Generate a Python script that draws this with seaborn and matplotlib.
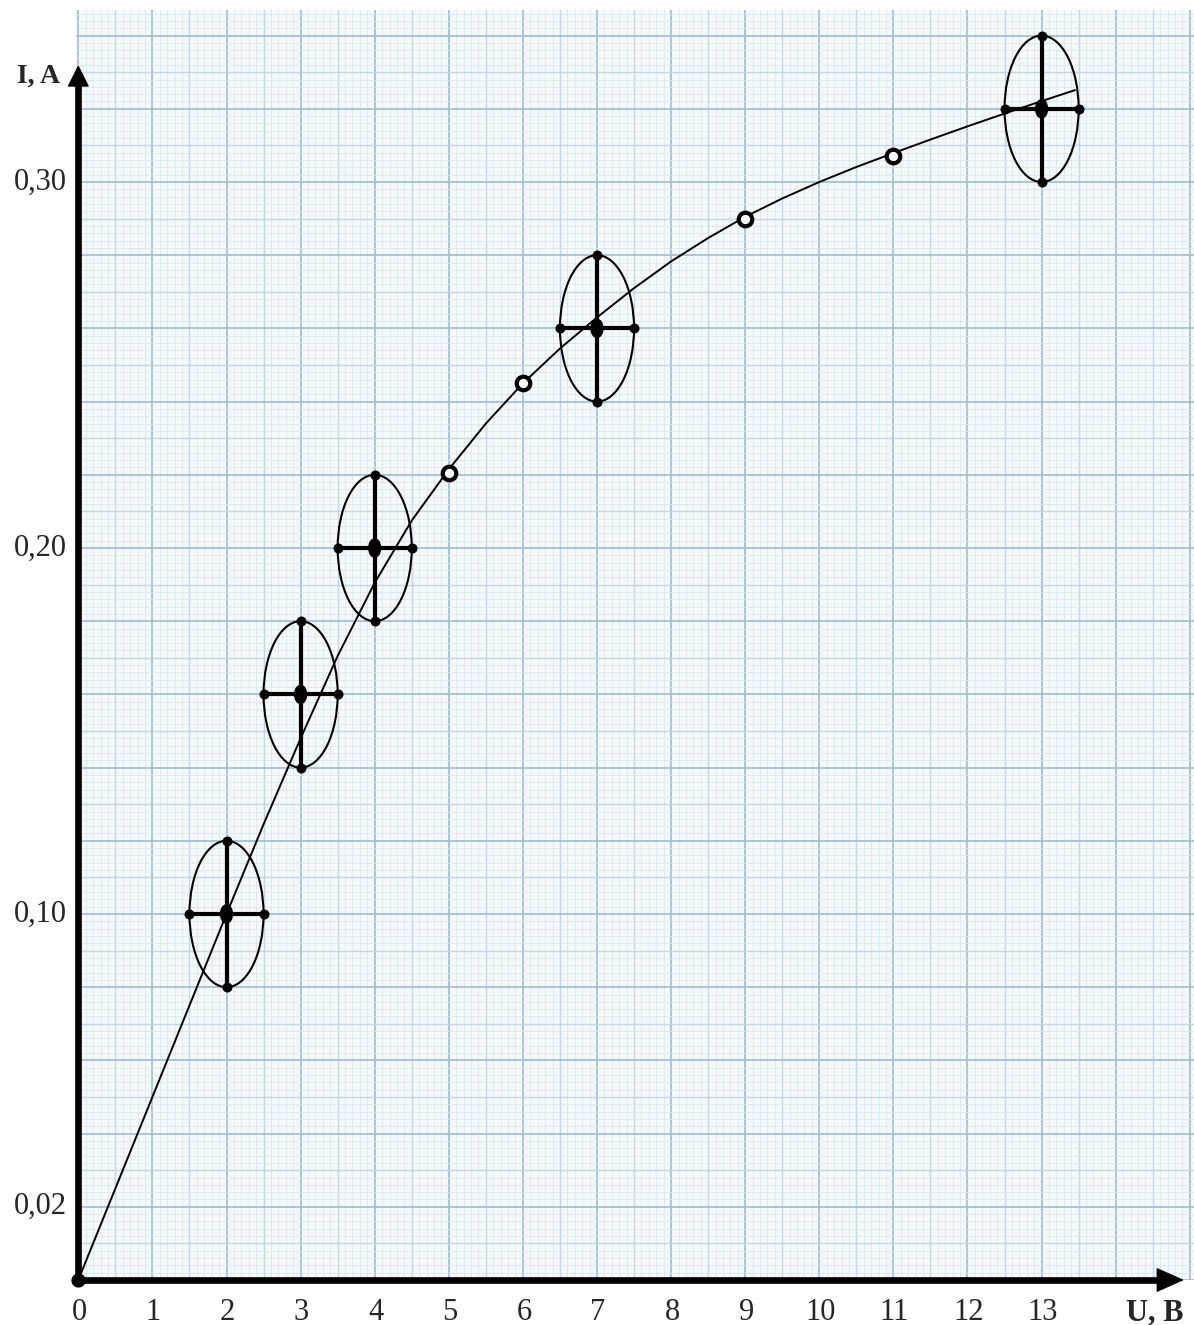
import numpy as np
import pandas as pd
import seaborn as sns
import matplotlib.pyplot as plt
from matplotlib.patches import Ellipse

# measured points (with error bars and ellipses)
u_meas = [2, 3, 4, 7, 13]
i_meas = [0.10, 0.16, 0.20, 0.26, 0.32]
du = 0.5
di = 0.02

# points taken from the curve (open circles)
u_open = [5, 6, 9, 11]
i_open = [0.2205, 0.245, 0.29, 0.307]

# the drawn curve
u_curve = [0, 1, 2, 2.5, 3, 3.5, 4, 4.5, 5, 5.5, 6, 6.5, 7, 7.5, 8, 8.5, 9,
           9.5, 10, 10.5, 11, 11.5, 12, 12.5, 13, 13.45]
i_curve = [0, 0.050, 0.100, 0.1245, 0.148, 0.1705, 0.1905, 0.2075, 0.2215, 0.234,
           0.245, 0.2545, 0.263, 0.271, 0.2783, 0.2847, 0.2905, 0.2955, 0.300,
           0.3041, 0.3079, 0.3116, 0.3152, 0.3187, 0.3221, 0.3251]

x_ticks = list(range(14))
x_tick_labels = [str(v) for v in x_ticks]
y_ticks = [0.02, 0.10, 0.20, 0.30]
y_tick_labels = ['0,02', '0,10', '0,20', '0,30']


def main():
    sns.set_theme(style="white")
    plt.rcParams['font.family'] = ['Liberation Serif', 'DejaVu Serif']

    W, H = 1194, 1325
    ppx, x0 = 74.1, 78.3      # pixels per volt, pixel of U = 0
    ppy, y0 = 3660.0, 1280.0  # pixels per ampere, pixel row of I = 0
    left, top = 76, 10

    fig = plt.figure(figsize=(W / 100, H / 100), dpi=100)
    fig.patch.set_facecolor('white')
    ax = fig.add_axes([left / W, (H - y0) / H, (W - left) / W, (y0 - top) / H])
    ax.set_xlim((left - x0) / ppx, (W - x0) / ppx)
    ax.set_ylim(0, (y0 - top) / ppy)
    ax.set_facecolor('#f4f9fc')
    for s in ax.spines.values():
        s.set_visible(False)
    ax.set_xticks([])
    ax.set_yticks([])

    # graph paper
    heavy, medium, fine = '#a7c0d3', '#c4d6e3', '#dae6ee'
    for k in range(0, 152):
        if k % 10 == 0:
            c, lw = heavy, 1.3
        elif k % 5 == 0:
            c, lw = medium, 1.0
        else:
            c, lw = fine, 0.6
        ax.axvline(k / 10, color=c, lw=lw, zorder=0)
    for k in range(0, 174):
        if k % 10 == 0:
            c, lw = heavy, 1.3
        elif k % 5 == 0:
            c, lw = medium, 1.0
        else:
            c, lw = fine, 0.6
        ax.axhline(k * 0.002, color=c, lw=lw, zorder=0)

    # curve
    sns.lineplot(x=u_curve, y=i_curve, sort=False, estimator=None,
                 color='black', lw=1.4, ax=ax, zorder=3)

    # error ellipses and bars
    for u, i in zip(u_meas, i_meas):
        ax.add_patch(Ellipse((u, i), 2 * du, 2 * di, fill=False,
                             ec='black', lw=1.5, zorder=4))
        ax.add_patch(Ellipse((u, i), 0.16, 0.005, fc='black', ec='black', zorder=6))
    ax.errorbar(u_meas, i_meas, xerr=du, yerr=di, fmt='none', ecolor='black',
                elinewidth=3, capsize=0, zorder=5)
    ends = pd.DataFrame({
        'u': [u - du for u in u_meas] + [u + du for u in u_meas] + u_meas + u_meas,
        'i': i_meas + i_meas + [i - di for i in i_meas] + [i + di for i in i_meas],
    })
    sns.scatterplot(data=ends, x='u', y='i', s=52, color='black',
                    edgecolor='black', linewidth=0, ax=ax, zorder=6)

    # open circles
    sns.scatterplot(x=u_open, y=i_open, s=95, color='white', edgecolor='black',
                    linewidth=3, ax=ax, zorder=7)

    # axes with arrows
    y_tip = (y0 - 65) / ppy
    x_tip = (1184 - x0) / ppx
    ax.plot([0, 0], [0, y_tip - 0.003], color='black', lw=4.8, clip_on=False,
            solid_capstyle='butt', zorder=8)
    ax.plot([0, x_tip - 0.2], [0, 0], color='black', lw=4.8, clip_on=False,
            solid_capstyle='butt', zorder=8)
    ax.annotate('', xy=(0, y_tip), xytext=(0, y_tip - 0.01),
                arrowprops=dict(arrowstyle='-|>,head_length=14,head_width=7',
                                mutation_scale=1, lw=1, color='black',
                                shrinkA=0, shrinkB=0),
                annotation_clip=False, zorder=9)
    ax.annotate('', xy=(x_tip, 0), xytext=(x_tip - 0.5, 0),
                arrowprops=dict(arrowstyle='-|>,head_length=18,head_width=8',
                                mutation_scale=1, lw=1, color='black',
                                shrinkA=0, shrinkB=0),
                annotation_clip=False, zorder=9)
    ax.scatter([0], [0], s=85, color='black', clip_on=False, zorder=10)

    # tick labels
    for x, lab in zip(x_ticks, x_tick_labels):
        ax.annotate(lab, xy=(x, 0), xytext=(1, -33), textcoords='offset pixels',
                    ha='center', va='center', fontsize=22, annotation_clip=False)
    for y, lab in zip(y_ticks, y_tick_labels):
        ax.annotate(lab, xy=(0, y), xytext=(-11, 0), textcoords='offset pixels',
                    ha='right', va='center', fontsize=22, annotation_clip=False)

    ax.annotate('U, B', xy=((1155 - x0) / ppx, 0), xytext=(0, -33),
                textcoords='offset pixels', ha='center', va='center',
                fontsize=22, fontweight='bold', annotation_clip=False)
    ax.annotate('I, A', xy=(0, (y0 - 76) / ppy), xytext=(-18, 0),
                textcoords='offset pixels', ha='right', va='center',
                fontsize=20, fontweight='bold', annotation_clip=False)

    fig.savefig('out.png', dpi=100)


if __name__ == "__main__":
    main()
